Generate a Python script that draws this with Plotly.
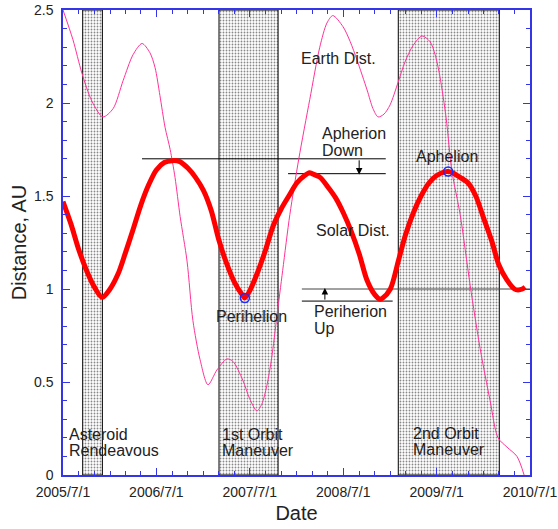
import plotly.graph_objects as go

# ---------------- data ----------------
solar_dates = ["2005-07-01", "2005-08-01", "2005-09-01", "2005-10-01", "2005-11-01", "2005-12-01",
               "2006-01-01", "2006-02-01", "2006-03-01", "2006-04-01", "2006-05-01", "2006-06-01",
               "2006-07-01", "2006-08-01", "2006-09-01", "2006-10-01", "2006-11-01", "2006-12-01",
               "2007-01-01", "2007-02-01", "2007-03-01", "2007-04-01", "2007-05-01", "2007-06-01",
               "2007-06-12", "2007-07-01", "2007-08-01", "2007-09-01", "2007-10-01", "2007-11-01",
               "2007-12-01", "2008-01-01", "2008-02-01", "2008-02-20", "2008-03-01", "2008-04-01",
               "2008-05-01", "2008-06-01", "2008-07-01", "2008-08-01", "2008-09-01", "2008-10-01",
               "2008-11-01", "2008-11-22", "2008-12-01", "2009-01-01", "2009-02-01", "2009-03-01",
               "2009-04-01", "2009-05-01", "2009-06-01", "2009-07-01", "2009-08-01", "2009-08-15",
               "2009-09-01", "2009-10-01", "2009-11-01", "2009-12-01", "2010-01-01", "2010-02-01",
               "2010-03-01", "2010-04-01", "2010-05-01", "2010-05-15", "2010-06-01", "2010-06-12"]
solar_au = [1.47, 1.35, 1.21, 1.10, 1.01, 0.955,
            1.00, 1.08, 1.19, 1.32, 1.45, 1.56,
            1.64, 1.68, 1.69, 1.685, 1.65, 1.60,
            1.53, 1.42, 1.27, 1.14, 1.04, 0.97,
            0.952, 0.99, 1.09, 1.21, 1.34, 1.43,
            1.50, 1.57, 1.61, 1.625, 1.62, 1.60,
            1.55, 1.49, 1.41, 1.31, 1.19, 1.05,
            0.97, 0.945, 0.95, 1.00, 1.15, 1.29,
            1.41, 1.50, 1.57, 1.61, 1.63, 1.632,
            1.625, 1.60, 1.57, 1.50, 1.38, 1.26,
            1.13, 1.05, 1.00, 0.995, 1.00, 1.01]

earth_dates = ["2005-07-01", "2005-08-09", "2005-09-13", "2005-10-22", "2005-12-04", "2006-01-13",
               "2006-02-21", "2006-04-01", "2006-05-06", "2006-06-06", "2006-06-26", "2006-07-15",
               "2006-08-04", "2006-08-24", "2006-09-12", "2006-10-02", "2006-10-29", "2006-11-21",
               "2006-12-19", "2007-01-19", "2007-02-23", "2007-04-03", "2007-04-27", "2007-06-04",
               "2007-07-01", "2007-07-29", "2007-08-17", "2007-09-06", "2007-09-25", "2007-10-15",
               "2007-11-07", "2007-12-05", "2008-01-09", "2008-02-21", "2008-03-31", "2008-04-28",
               "2008-05-21", "2008-06-30", "2008-07-28", "2008-08-24", "2008-10-02", "2008-10-25",
               "2008-11-14", "2008-12-07", "2008-12-31", "2009-01-31", "2009-02-27", "2009-03-31",
               "2009-05-05", "2009-06-05", "2009-06-25", "2009-07-14", "2009-08-07", "2009-08-30",
               "2009-10-01", "2009-11-09", "2009-12-18", "2010-01-26", "2010-02-26", "2010-04-02",
               "2010-05-11", "2010-06-08"]
earth_au = [2.50, 2.34, 2.16, 2.01, 1.925, 1.97,
            2.12, 2.26, 2.32, 2.27, 2.19, 2.04,
            1.87, 1.75, 1.60, 1.39, 1.15, 0.83,
            0.62, 0.485, 0.565, 0.624, 0.61, 0.51,
            0.41, 0.345, 0.38, 0.48, 0.63, 0.85,
            1.10, 1.40, 1.70, 2.02, 2.30, 2.43,
            2.47, 2.41, 2.33, 2.23, 2.07, 1.97,
            1.925, 1.94, 1.99, 2.11, 2.22, 2.31,
            2.36, 2.33, 2.26, 2.14, 1.92, 1.63,
            1.40, 1.02, 0.68, 0.40, 0.20, 0.15,
            0.10, 0.00]

# shaded mission phases
phase_start = ["2005-09-16", "2007-03-03", "2009-02-01"]
phase_end = ["2005-12-02", "2007-10-20", "2010-03-03"]
phase_label1 = ["Asteroid", "1st Orbit", "2nd Orbit"]
phase_label2 = ["Rendeavous", "Maneuver", "Maneuver"]

# marked points
mark_dates = ["2007-06-12", "2009-08-15"]
mark_au = [0.952, 1.632]
mark_names = ["Perihelion", "Aphelion"]

# reference lines (apherion down / perihelion up)
aph_hi_x = ["2006-05-06", "2008-12-14"]
aph_hi_y = [1.70, 1.70]
aph_lo_x = ["2007-11-28", "2008-12-14"]
aph_lo_y = [1.62, 1.62]
per_hi_x = ["2008-01-21", "2010-07-01"]
per_hi_y = [1.00, 1.00]
per_lo_x = ["2008-01-21", "2009-01-10"]
per_lo_y = [0.935, 0.935]
aph_arrow_x = "2008-09-01"
per_arrow_x = "2008-04-20"

x_range = ["2005-07-01", "2010-07-01"]
y_range = [0, 2.5]

# ---------------- figure ----------------
AXIS_BLUE = "#3535e8"
TXT = "#222222"
FONT = "Liberation Sans, Arial, Helvetica, sans-serif"

fig = go.Figure()

for s, e in zip(phase_start, phase_end):
    fig.add_trace(go.Scatter(
        x=[s, e, e, s, s], y=[y_range[0], y_range[0], y_range[1], y_range[1], y_range[0]],
        mode="lines", fill="toself", fillcolor="white",
        fillpattern=dict(shape=".", size=3, solidity=0.3, fgcolor="#111111", bgcolor="#ffffff"),
        line=dict(color="black", width=1), hoverinfo="skip", showlegend=False))

for xs, ys, col in [(aph_hi_x, aph_hi_y, "black"), (aph_lo_x, aph_lo_y, "black"),
                    (per_hi_x, per_hi_y, "#444444"), (per_lo_x, per_lo_y, "black")]:
    fig.add_trace(go.Scatter(x=xs, y=ys, mode="lines", line=dict(color=col, width=1),
                             hoverinfo="skip", showlegend=False))

fig.add_trace(go.Scatter(x=earth_dates, y=earth_au, mode="lines", name="Earth Dist.",
                         line=dict(color="#ff3399", width=1, shape="spline", smoothing=0.8),
                         showlegend=False))
fig.add_trace(go.Scatter(x=solar_dates, y=solar_au, mode="lines", name="Solar Dist.",
                         line=dict(color="#ff0000", width=5, shape="spline", smoothing=0.8),
                         showlegend=False))
fig.add_trace(go.Scatter(x=mark_dates, y=mark_au, mode="markers",
                         marker=dict(symbol="circle-open", size=9, color="#1a2cff",
                                     line=dict(width=1.5, color="#1a2cff")),
                         showlegend=False))

annotations = []
def label(x, y, text, xanchor="left"):
    annotations.append(dict(x=x, y=y, xref="x", yref="y", text=text, showarrow=False,
                            xanchor=xanchor, yanchor="middle",
                            font=dict(size=16, color=TXT, family=FONT)))

label("2005-07-16", 0.22, phase_label1[0])
label("2005-07-16", 0.13, phase_label2[0])
label("2007-03-07", 0.22, phase_label1[1])
label("2007-03-07", 0.13, phase_label2[1])
label("2009-03-22", 0.225, phase_label1[2])
label("2009-03-22", 0.135, phase_label2[2])

label("2008-01-09", 2.24, "Earth Dist.")
label("2008-04-01", 1.835, "Apherion")
label("2008-04-01", 1.745, "Down")
label("2008-03-09", 1.317, "Solar Dist.")
label("2008-02-29", 0.88, "Periherion")
label("2008-02-29", 0.785, "Up")
label("2007-07-08", 0.851, mark_names[0], xanchor="center")
label("2009-08-11", 1.715, mark_names[1], xanchor="center")

annotations.append(dict(x=aph_arrow_x, y=aph_lo_y[0] - 0.005, ax=aph_arrow_x, ay=aph_hi_y[0],
                        xref="x", yref="y", axref="x", ayref="y", text="", showarrow=True,
                        arrowhead=2, arrowsize=1.3, arrowwidth=1, arrowcolor="black"))
annotations.append(dict(x=per_arrow_x, y=per_hi_y[0] + 0.005, ax=per_arrow_x, ay=per_lo_y[0],
                        xref="x", yref="y", axref="x", ayref="y", text="", showarrow=True,
                        arrowhead=2, arrowsize=1.3, arrowwidth=1, arrowcolor="black"))

fig.update_layout(
    width=558, height=529,
    margin=dict(l=63, r=28, t=10, b=54),
    paper_bgcolor="white", plot_bgcolor="white",
    font=dict(family=FONT, color=TXT, size=14),
    annotations=annotations,
    showlegend=False,
)
fig.update_xaxes(
    type="date", range=x_range, tick0="2005-07-01", dtick="M12", tickformat="%Y/%-m/%-d",
    ticks="inside", ticklen=7, tickcolor=AXIS_BLUE, tickwidth=1,
    minor=dict(dtick="M2", ticks="inside", ticklen=4, tickcolor=AXIS_BLUE, tickwidth=1),
    showline=True, linecolor=AXIS_BLUE, linewidth=1.5, mirror="ticks",
    showgrid=False, zeroline=False, automargin=False, ticklabelstandoff=3,
    tickfont=dict(size=14, color=TXT, family=FONT),
    title=dict(text="Date", font=dict(size=20, color=TXT, family=FONT), standoff=7),
)
fig.update_yaxes(
    range=y_range, tick0=0, dtick=0.5,
    ticks="inside", ticklen=7, tickcolor=AXIS_BLUE, tickwidth=1,
    minor=dict(dtick=0.1, ticks="inside", ticklen=4, tickcolor=AXIS_BLUE, tickwidth=1),
    showline=True, linecolor=AXIS_BLUE, linewidth=1.5, mirror="ticks",
    showgrid=False, zeroline=False, automargin=False, ticklabelstandoff=5,
    tickfont=dict(size=14, color=TXT, family=FONT),
    title=dict(text="Distance, AU", font=dict(size=20, color=TXT, family=FONT), standoff=2),
)

fig.write_html("out.html", config={"displayModeBar": False},
               post_script="document.body.style.margin='0';")
